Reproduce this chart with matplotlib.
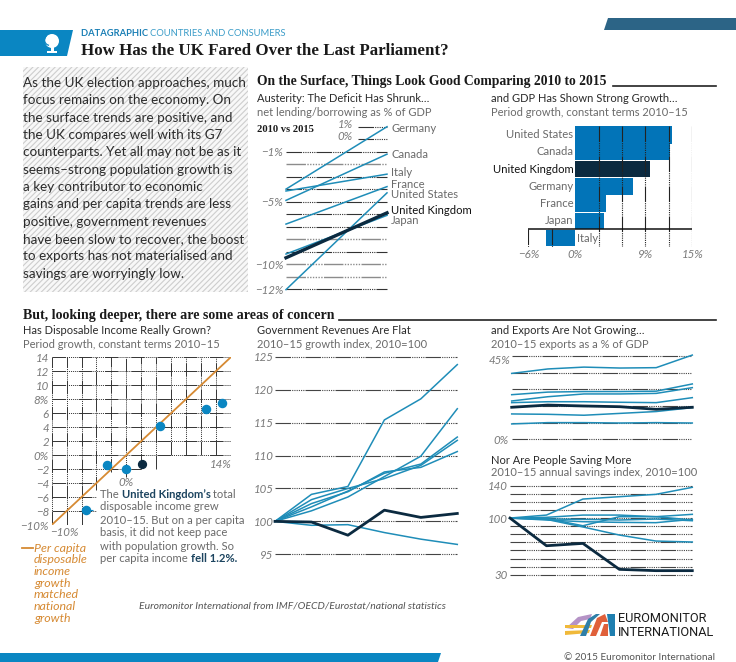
import matplotlib
matplotlib.use("Agg")
import matplotlib.pyplot as plt
from matplotlib.patches import Polygon, Rectangle, Circle, Wedge

W, H = 736, 662

BLUE = '#0a86c2'
BAR_BLUE = '#0274b8'
LINE_BLUE = '#1f8db8'
NAVY = '#0b2a40'
ORANGE = '#d68a33'
GREY = '#6a6a6a'
TICK = '#7a7a7a'
SERIF = 'Liberation Serif'
GRID_LS = (0, (14, 1, 1, 1, 1, 1, 1, 1, 1, 1, 1, 1, 1, 1))

plt.rcParams['font.family'] = ['Lato', 'DejaVu Sans']
plt.rcParams['hatch.linewidth'] = 0.8

# Slope chart: net lending/borrowing
slope_names = ['Germany', 'Canada', 'Italy', 'France', 'United States', 'Japan', 'United Kingdom']
slope_2010 = [-4.0, -4.9, -4.15, -6.8, -12.05, -9.2, -9.5]
slope_2015 = [1.0, -1.2, -2.8, -3.8, -4.3, -6.1, -5.9]
slope_grid = [1, 0, -1, -2, -3, -4, -5, -6, -7, -8, -9, -10, -11, -12]

# GDP bars
gdp_names = ['United States', 'Canada', 'United Kingdom', 'Germany', 'France', 'Japan', 'Italy']
gdp_growth = [12.4, 12.2, 9.6, 7.4, 4.0, 3.7, -3.7]
gdp_grid = [3, 6, 9, 12, 15]
gdp_grid_low = [-6, -3]
gdp_ticks = [-6, 0, 9, 15]
gdp_ticklabels = ['\u22126%', '0%', '9%', '15%']

# Disposable income scatter
income_total = [-5.35, -2.55, 0.0, 4.55, 10.65, 12.9]
income_capita = [-7.9, -1.45, -2.05, 4.1, 6.55, 7.45]
income_uk_total = [2.15]
income_uk_capita = [-1.2]
income_ticks = [14, 12, 10, 8, 6, 4, 2, 0, -2, -4, -6, -8, -10]
income_ticklabels = ['14', '12', '10', '8%', '6', '4', '2', '0%', '\u22122', '\u22124', '\u22126', '\u22128', '\u221210%']

years = [2010, 2011, 2012, 2013, 2014, 2015]

# Government revenues index
rev_a = [100, 104.1, 105.3, 115.4, 118.6, 123.8]
rev_b = [100, 101.6, 103.7, 106.8, 109.9, 117.1]
rev_c = [100, 102.2, 104.6, 107.3, 108.7, 112.8]
rev_d = [100, 103.3, 105.0, 106.5, 108.5, 112.3]
rev_e = [100, 102.7, 104.5, 107.5, 108.2, 110.6]
rev_f = [100, 99.4, 99.5, 98.3, 97.3, 96.5]
rev_uk = [100, 99.9, 97.9, 101.7, 100.6, 101.2]
rev_ticks = [125, 120, 115, 110, 105, 100, 95]

# Exports as % of GDP
exp_a = [35.6, 38.0, 39.0, 38.5, 38.7, 45.5]
exp_b = [24.1, 25.5, 25.8, 25.8, 26.0, 29.9]
exp_c = [20.7, 23.0, 24.5, 24.5, 24.8, 27.9]
exp_d = [19.8, 20.3, 20.3, 20.0, 19.8, 22.5]
exp_e = [13.7, 13.5, 13.0, 14.0, 15.0, 17.1]
exp_f = [8.3, 9.0, 9.0, 8.8, 9.0, 8.8]
exp_uk = [17.3, 18.5, 18.0, 17.6, 16.2, 17.3]
exp_grid = [45, 36, 27, 18, 9, 0]

# Savings index
sav_a = [100, 103.7, 123.5, 126.4, 129.3, 138]
sav_b = [100, 98.4, 89, 79, 71.6, 70.4]
sav_c = [100, 99.5, 90.5, 101.7, 101.7, 97.6]
sav_d = [100, 100.9, 103.7, 103.7, 101.7, 104.6]
sav_e = [100, 97.6, 95.5, 94.7, 94.3, 98.4]
sav_f = [100, 98.8, 98.4, 97.6, 98.8, 96.7]
sav_uk = [100, 65.8, 68.7, 36.6, 35, 35]
sav_grid = [140, 130, 120, 110, 100, 90, 80, 70, 60, 50, 40, 30]

intro_lines = ['As the UK election approaches, much',
               'focus remains on the economy. On',
               'the surface trends are positive, and',
               'the UK compares well with its G7',
               'counterparts. Yet all may not be as it',
               'seems\u2013strong population growth is',
               'a key contributor to economic',
               'gains and per capita trends are less',
               'positive, government revenues',
               'have been slow to recover, the boost',
               'to exports has not materialised and',
               'savings are worryingly low.']


def px_axes(fig, x0, y0, x1, y1):
    """Axes placed by pixel box, y measured from the top of the picture."""
    ax = fig.add_axes([x0 / W, 1 - y1 / H, (x1 - x0) / W, (y1 - y0) / H])
    ax.patch.set_alpha(0)
    for spine in ax.spines.values():
        spine.set_visible(False)
    ax.tick_params(length=0, pad=2)
    return ax


def style_ticks(ax, size=8.3):
    for lab in ax.get_xticklabels() + ax.get_yticklabels():
        lab.set_fontstyle('italic')
        lab.set_fontsize(size)
        lab.set_color(TICK)


def draw_runs(ax, x, y, runs, size=8.1):
    """Write text runs one after the other on a line."""
    renderer = ax.figure.canvas.get_renderer()
    for text, weight, color in runs:
        t = ax.text(x, y, text, fontsize=size, fontweight=weight, color=color, va='center', ha='left')
        x = t.get_window_extent(renderer).x1


def draw_frame(bg):
    # header blocks
    bg.add_patch(Polygon([(0, 30), (73, 30), (67, 56), (0, 56)], color=BLUE, lw=0))
    bg.add_patch(Polygon([(608, 18), (736, 18), (736, 30), (604, 30)], color='#2c6486', lw=0))
    bg.add_patch(Polygon([(0, 653), (441, 653), (438, 662), (0, 662)], color=BLUE, lw=0))
    # globe icon
    bg.add_patch(Circle((52, 41), 7, color='white', lw=0))
    bg.add_patch(Wedge((50, 40), 6, 100, 230, width=1.2, color=BLUE, lw=0))
    bg.add_patch(Rectangle((51, 47), 2.5, 4, color='white', lw=0))
    bg.add_patch(Rectangle((47, 51), 10, 1.6, color='white', lw=0))

    draw_runs(bg, 81, 33, [('DATAGRAPHIC ', 'bold', '#1a7fb5'),
                           ('COUNTRIES AND CONSUMERS', 'normal', '#3a9cc8')], size=6.75)
    bg.text(81, 51, 'How Has the UK Fared Over the Last Parliament?', family=SERIF,
            fontweight='bold', fontsize=12.2, color='#1a1a1a', va='center')

    # intro panel
    bg.add_patch(Rectangle((23, 67), 225, 225, facecolor='#f8f8f8', edgecolor='#cdcdcd', hatch='//////', lw=0))
    for i, line in enumerate(intro_lines):
        bg.text(23, 83 + i * 17.35, line, fontsize=9.7, color='#2c2c2c', va='center')

    # section headers
    bg.text(257, 82, 'On the Surface, Things Look Good Comparing 2010 to 2015', family=SERIF,
            fontweight='bold', fontsize=9.85, color='#1a1a1a', va='center')
    bg.plot([613, 716], [86, 86], color='#222222', lw=1.2)
    bg.text(23, 316, 'But, looking deeper, there are some areas of concern', family=SERIF,
            fontweight='bold', fontsize=10.05, color='#1a1a1a', va='center')
    bg.plot([339, 716], [320, 320], color='#222222', lw=1.2)

    # chart heads
    heads = [(257, 99, 'Austerity: The Deficit Has Shrunk\u2026', 'net lending/borrowing as % of GDP'),
             (491, 99, 'and GDP Has Shown Strong Growth\u2026', 'Period growth, constant terms 2010\u201315'),
             (23, 331, 'Has Disposable Income Really Grown?', 'Period growth, constant terms 2010\u201315'),
             (257, 331, 'Government Revenues Are Flat', '2010\u201315 growth index, 2010=100'),
             (491, 331, 'and Exports Are Not Growing\u2026', '2010\u201315 exports as a % of GDP'),
             (491, 460, 'Nor Are People Saving More', '2010\u201315 annual savings index, 2010=100')]
    for x, y, head, sub in heads:
        bg.text(x, y, head, fontsize=8.0, color='#2a2a2a', va='center')
        bg.text(x, y + 13, sub, fontsize=8.0, color=GREY, va='center')

    bg.text(257, 130, '2010 vs 2015', family=SERIF, fontweight='bold', fontsize=7.6,
            color='#1a1a1a', va='center')

    # scatter notes
    draw_runs(bg, 100, 494, [('The ', 'normal', GREY), ('United Kingdom\u2019s', 'bold', '#1d4560'),
                             (' total', 'normal', GREY)])
    bg.text(100, 507, 'disposable income grew', fontsize=8.1, color=GREY, va='center')
    bg.text(100, 520, '2010\u201315. But on a per capita', fontsize=8.1, color=GREY, va='center')
    bg.text(100, 533, 'basis, it did not keep pace', fontsize=8.1, color=GREY, va='center')
    bg.text(100, 546, 'with population growth. So', fontsize=8.1, color=GREY, va='center')
    draw_runs(bg, 100, 559, [('per capita income ', 'normal', GREY), ('fell 1.2%.', 'bold', '#1d4560')])

    bg.plot([22, 33], [548, 548], color=ORANGE, lw=1.3)
    note = ['Per capita', 'disposable', 'income', 'growth', 'matched', 'national', 'growth']
    for i, line in enumerate(note):
        bg.text(34, 548 + i * 11.7, line, fontsize=8.9, color=ORANGE, style='italic', va='center')

    bg.text(139, 607, 'Euromonitor International from IMF/OECD/Eurostat/national statistics', fontsize=7.5,
            color='#555555', style='italic', va='center')

    # logo
    bg.add_patch(Polygon([(566, 628), (578, 617), (592, 614), (590, 619), (581, 621), (573, 629)], color='#b593c6', lw=0))
    bg.add_patch(Polygon([(565, 625), (592, 625), (591, 628), (565, 628)], color='#f0b93a', lw=0))
    bg.add_patch(Polygon([(565, 631), (590, 630), (589, 633), (565, 635)], color='#f0b93a', lw=0))
    bg.add_patch(Polygon([(580, 636), (588, 619), (596, 614), (600, 614), (591, 622), (586, 636)], color='#2f7fa8', lw=0))
    bg.add_patch(Polygon([(590, 636), (597, 618), (605, 614), (608, 622), (602, 622), (596, 636)], color='#e0603a', lw=0))
    bg.add_patch(Polygon([(600, 636), (604, 624), (608, 624), (608, 636)], color='#e0603a', lw=0))
    bg.add_patch(Polygon([(607, 614), (615, 614), (615, 636), (610, 636)], color='#1f7fb0', lw=0))
    bg.text(618, 619, 'EUROMONITOR', family='Roboto', fontsize=9.2, color='#1c1c1c', va='center')
    bg.text(618, 632, 'INTERNATIONAL', family='Roboto', fontsize=9.2, color='#1c1c1c', va='center')
    bg.text(715, 657, '\u00a9 2015 Euromonitor International', fontsize=7.2, color='#555555', va='center', ha='right')


def plot_slope(fig, bg):
    ax = px_axes(fig, 286, 126.7, 387, 289)
    ax.set_xlim(0, 1)
    ax.set_ylim(-12, 1)
    for v in slope_grid:
        start = 0.71 if v >= 0 else 0.0
        colour = '#8c8c8c' if v in (-2, -8, -10, -11) else '#333333'
        ax.hlines(v, start, 1, color=colour, lw=1.0 if colour == '#8c8c8c' else 0.8,
                  linestyle=GRID_LS, clip_on=False)
    for name, a, b in zip(slope_names, slope_2010, slope_2015):
        ax.plot([0, 1], [a, b], color=LINE_BLUE, lw=1.1, clip_on=False)
    ax.plot([0, 1], [slope_2010[-1], slope_2015[-1]], color=NAVY, lw=2.4, clip_on=False)
    ax.set_xticks([])
    ax.set_yticks([-1, -5, -10, -12])
    ax.set_yticklabels(['\u22121%', '\u22125%', '\u221210%', '\u221212%'])
    style_ticks(ax)
    bg.text(353, 125, '1%', fontsize=8.3, color=TICK, style='italic', ha='right', va='center')
    bg.text(353, 137, '0%', fontsize=8.3, color=TICK, style='italic', ha='right', va='center')
    label_y = [128, 154, 172, 184, 195, 220, 210]
    for name, y in zip(slope_names, label_y):
        uk = name == 'United Kingdom'
        bg.text(391, y, name, fontsize=8.1, color='#111111' if uk else GREY, va='center')


def plot_gdp(fig):
    ax = px_axes(fig, 528.3, 126, 692.3, 246.7)
    rows = list(range(len(gdp_names)))
    colours = [NAVY if n == 'United Kingdom' else BAR_BLUE for n in gdp_names]
    heights = [1.04 if n == 'United States' else 0.96 for n in gdp_names]
    ax.barh(rows, gdp_growth, height=heights, color=colours)
    ax.set_xlim(-6, 15)
    ax.set_ylim(6.5, -0.5)
    ax.vlines(gdp_grid, -0.5, 6.5, color='#222222', lw=0.8, linestyle=GRID_LS)
    ax.vlines(gdp_grid_low, 5.5, 6.5, color='#222222', lw=0.8, linestyle=GRID_LS)
    ax.hlines(5.5, -6, 15, color='#111111', lw=1.1)
    ax.set_yticks([])
    ax.set_xticks(gdp_ticks)
    ax.set_xticklabels(gdp_ticklabels)
    style_ticks(ax)
    for i, name in enumerate(gdp_names):
        uk = name == 'United Kingdom'
        if name == 'Italy':
            ax.text(0.3, i, name, fontsize=8.1, color=GREY, va='center', ha='left')
        else:
            ax.text(-0.2, i, name, fontsize=8.1, color='#111111' if uk else GREY, va='center', ha='right')


def plot_income(fig, bg):
    ax = px_axes(fig, 51.7, 357.3, 230.7, 525)
    ax.set_xlim(-10, 14)
    ax.set_ylim(-10, 14)
    for v in range(0, 16, 2):
        ax.hlines(v, -10, 14, color='#333333', lw=0.7, linestyle=GRID_LS)
    ax.hlines(-2, -10, 2, color='#333333', lw=0.7, linestyle=GRID_LS)
    for v in (-4, -6, -8, -10):
        ax.hlines(v, -10, -4, color='#333333', lw=0.7, linestyle=GRID_LS)
    lower_ends = {-10: -10, -8: -10, -6: -10, -4: -5, -2: -2.4, 0: -3.2, 2: -2, 4: -2}
    for v in range(-10, 16, 2):
        ax.vlines(v, lower_ends.get(v, 0), 14, color='#333333', lw=0.7, linestyle=GRID_LS)
    ax.hlines(-7.9, -5.4, -4.5, color=BLUE, lw=0.8)
    ax.plot([-10, 14], [-10, 14], color=ORANGE, lw=1.3)
    ax.scatter(income_total, income_capita, s=34, color=BLUE, zorder=4, clip_on=False)
    ax.scatter(income_uk_total, income_uk_capita, s=32, color=NAVY, zorder=4, clip_on=False)
    ax.set_xticks([])
    ax.set_yticks(income_ticks)
    ax.set_yticklabels(income_ticklabels)
    style_ticks(ax)
    bg.text(64, 533, '\u221210%', fontsize=8.3, color=TICK, style='italic', ha='center', va='center')
    bg.text(126, 483, '0%', fontsize=8.3, color=TICK, style='italic', ha='center', va='center')
    bg.text(221, 464, '14%', fontsize=8.3, color=TICK, style='italic', ha='center', va='center')


def plot_lines(ax, series, uk, grid, lw_uk=2.0):
    for v in grid:
        ax.hlines(v, years[0], years[-1], color='#444444', lw=0.8, linestyle=GRID_LS, clip_on=False)
    for s in series:
        ax.plot(years, s, color=LINE_BLUE, lw=1.1, clip_on=False)
    ax.plot(years, uk, color=NAVY, lw=lw_uk, clip_on=False)
    ax.set_xlim(years[0], years[-1])
    ax.set_ylim(min(grid), max(grid))
    ax.set_xticks([])


def plot_revenues(fig):
    ax = px_axes(fig, 275, 356.7, 457.3, 554.3)
    plot_lines(ax, [rev_a, rev_b, rev_c, rev_d, rev_e, rev_f], rev_uk, rev_ticks)
    ax.set_yticks(rev_ticks)
    ax.set_yticklabels([str(v) for v in rev_ticks])
    ax.tick_params(pad=1)
    style_ticks(ax)


def plot_exports(fig, bg):
    ax = px_axes(fig, 511.7, 356, 692.3, 439.3)
    plot_lines(ax, [exp_a, exp_b, exp_c, exp_d, exp_e, exp_f], exp_uk, exp_grid)
    ax.set_yticks([0])
    ax.set_yticklabels(['0%'])
    style_ticks(ax)
    bg.text(510, 360, '45%', fontsize=8.3, color=TICK, style='italic', ha='right', va='center')


def plot_savings(fig):
    ax = px_axes(fig, 510, 485.7, 692.3, 574.7)
    plot_lines(ax, [sav_a, sav_b, sav_c, sav_d, sav_e, sav_f], sav_uk, sav_grid)
    ax.set_yticks([140, 100, 30])
    ax.set_yticklabels(['140', '100', '30'])
    style_ticks(ax)


if __name__ == '__main__':
    fig = plt.figure(figsize=(W / 100, H / 100), dpi=100)
    bg = fig.add_axes([0, 0, 1, 1])
    bg.set_xlim(0, W)
    bg.set_ylim(H, 0)
    bg.axis('off')

    draw_frame(bg)
    plot_slope(fig, bg)
    plot_gdp(fig)
    plot_income(fig, bg)
    plot_revenues(fig)
    plot_exports(fig, bg)
    plot_savings(fig)

    fig.savefig('out.png', dpi=100)
    plt.close(fig)
